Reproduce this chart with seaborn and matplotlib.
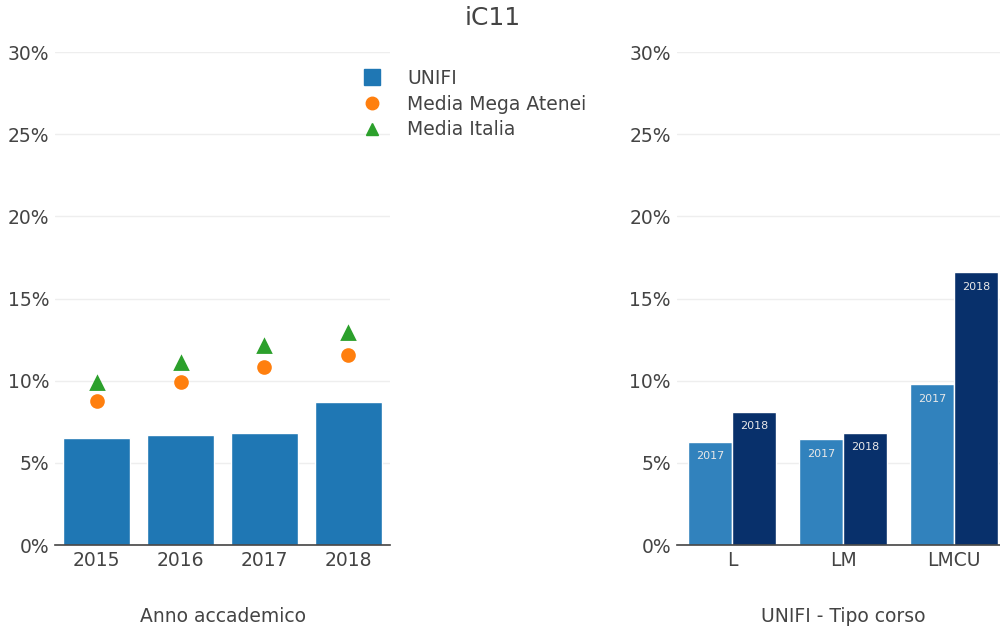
import matplotlib
matplotlib.use('Agg')
import matplotlib.pyplot as plt
from matplotlib.lines import Line2D
from matplotlib.ticker import FuncFormatter
import pandas as pd
import seaborn as sns

# left panel data
anni = ['2015', '2016', '2017', '2018']
unifi = [6.5, 6.7, 6.8, 8.7]
media_mega = [8.75, 9.9, 10.85, 11.55]
media_italia = [9.85, 11.1, 12.1, 12.9]

# right panel data
tipo_corso = ['L', 'LM', 'LMCU']
anno_corso = ['2017', '2018']
val_2017 = [6.3, 6.45, 9.8]
val_2018 = [8.1, 6.85, 16.6]

sns.set_style('white')
plt.rcParams['font.family'] = ['DejaVu Sans']

fig = plt.figure(figsize=(10, 6.28), dpi=100)
ax1 = fig.add_axes([0.055, 0.132, 0.335, 0.785])
ax2 = fig.add_axes([0.6765, 0.132, 0.333, 0.785])

text_col = '#444444'

# left: bars + markers
df_left = pd.DataFrame({'anno': anni, 'unifi': unifi, 'mega': media_mega, 'italia': media_italia})
sns.barplot(data=df_left, x='anno', y='unifi', color='#1f77b4', saturation=1, width=0.8, ax=ax1, zorder=2)
sns.pointplot(data=df_left, x='anno', y='mega', color='#ff7f0e', linestyle='none', marker='o',
              markersize=8.5, ax=ax1, zorder=3)
sns.pointplot(data=df_left, x='anno', y='italia', color='#2ca02c', linestyle='none', marker='^',
              markersize=8, ax=ax1, zorder=3)

# right: grouped bars
df_right = pd.DataFrame({
    'tipo': tipo_corso * 2,
    'anno': [anno_corso[0]] * 3 + [anno_corso[1]] * 3,
    'val': val_2017 + val_2018,
})
sns.barplot(data=df_right, x='tipo', y='val', hue='anno', palette=['#3182bd', '#08306b'],
            saturation=1, width=0.8, ax=ax2, zorder=2, legend=False)
for cont, lab in zip(ax2.containers, anno_corso):
    ax2.bar_label(cont, labels=[lab] * len(cont), padding=-14, color='#e8e8e8', fontsize=8)

pct = FuncFormatter(lambda v, p: f'{v:.0f}%')
for ax in (ax1, ax2):
    ax.set_ylim(0, 30)
    ax.set_yticks(range(0, 31, 5))
    ax.yaxis.set_major_formatter(pct)
    ax.grid(axis='y', color='#eeeeee', linewidth=1, zorder=0)
    ax.set_axisbelow(True)
    for s in ['top', 'right', 'left']:
        ax.spines[s].set_visible(False)
    ax.spines['bottom'].set_color(text_col)
    ax.spines['bottom'].set_linewidth(1.2)
    ax.tick_params(axis='both', colors=text_col, labelsize=13.5, length=0, pad=4)
    ax.set_ylabel('')
    ax.set_xlim(-0.5, len(ax.get_xticks()) - 0.5)

ax1.set_xlabel('Anno accademico', fontsize=13.5, color=text_col, labelpad=27)
ax2.set_xlabel('UNIFI - Tipo corso', fontsize=13.5, color=text_col, labelpad=27)

handles = [
    Line2D([], [], marker='s', color='#1f77b4', linestyle='none', markersize=12),
    Line2D([], [], marker='o', color='#ff7f0e', linestyle='none', markersize=9),
    Line2D([], [], marker='^', color='#2ca02c', linestyle='none', markersize=9),
]
fig.legend(handles, ['UNIFI', 'Media Mega Atenei', 'Media Italia'], loc='upper left',
           bbox_to_anchor=(0.336, 0.917), frameon=False, fontsize=13.5, labelcolor=text_col,
           handletextpad=0.9, labelspacing=0.35)

fig.suptitle('iC11', x=0.493, y=0.99, fontsize=18, color=text_col)

fig.savefig('out.png', dpi=100)
